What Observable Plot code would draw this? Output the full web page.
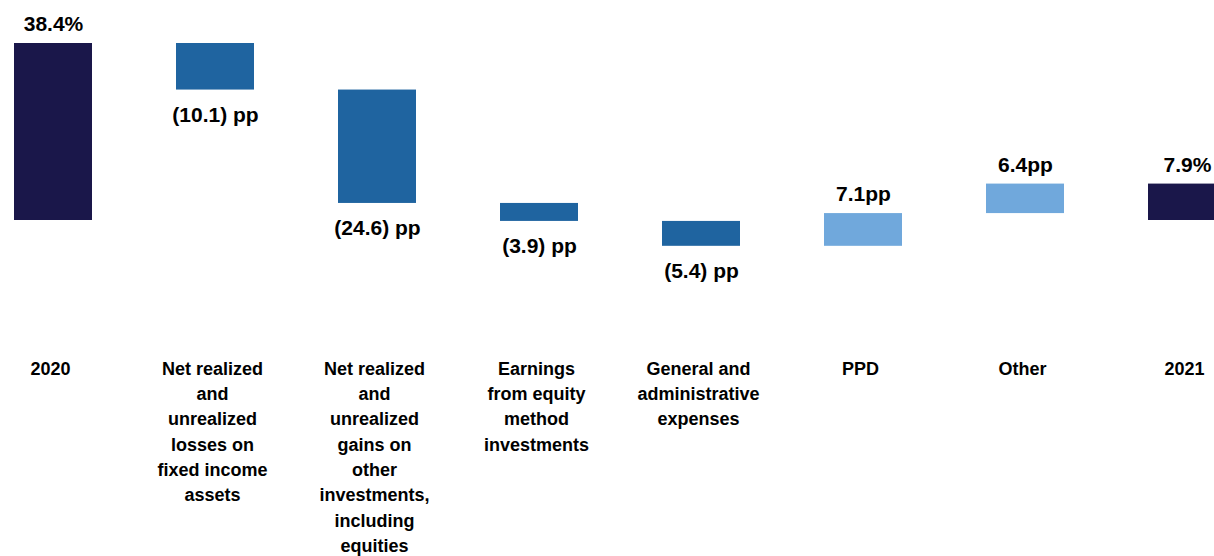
<!DOCTYPE html>
<html>
<head>
<meta charset="utf-8">
<script src="https://cdn.jsdelivr.net/npm/d3@7"></script>
<script src="https://cdn.jsdelivr.net/npm/@observablehq/plot@0.6"></script>
<style>
  html, body { margin: 0; padding: 0; background: #fff; overflow: hidden; }
  #chart svg { display: block; }
</style>
</head>
<body>
<div id="chart"></div>
<script>
// ---- data ----
const categories = [
  "2020",
  "Net realized\nand\nunrealized\nlosses on\nfixed income\nassets",
  "Net realized\nand\nunrealized\ngains on\nother\ninvestments,\nincluding\nequities",
  "Earnings\nfrom equity\nmethod\ninvestments",
  "General and\nadministrative\nexpenses",
  "PPD",
  "Other",
  "2021"
];
const values = [38.4, -10.1, -24.6, -3.9, -5.4, 7.1, 6.4, 7.9];
const kinds = ["total", "delta", "delta", "delta", "delta", "delta", "delta", "total"];
const valueLabels = ["38.4%", "(10.1) pp", "(24.6) pp", "(3.9) pp", "(5.4) pp", "7.1pp", "6.4pp", "7.9%"];

// ---- build waterfall table ----
let running = 0;
const rows = categories.map((c, i) => {
  let y1, y2;
  if (kinds[i] === "total") { y1 = 0; y2 = values[i]; running = values[i]; }
  else { y1 = running; y2 = running + values[i]; running = y2; }
  const type = kinds[i] === "total" ? "total" : (values[i] < 0 ? "neg" : "pos");
  return {cat: c, y1, y2, type, label: valueLabels[i], top: Math.max(y1, y2), bottom: Math.min(y1, y2)};
});

const colors = {total: "#1a174a", neg: "#1f64a0", pos: "#70a8dc"};
const valueFont = "'Liberation Sans', Arial, Helvetica, sans-serif";
const catFont = "'Liberation Sans Narrow', 'Arial Narrow', 'Liberation Sans', Arial, sans-serif";

const chart = Plot.plot({
  width: 1214,
  height: 556,
  marginTop: 0,
  marginBottom: 200,
  marginLeft: 0,
  marginRight: 0,
  x: {domain: categories, range: [12, 1228], paddingInner: 0.52, paddingOuter: 0, axis: null},
  y: {domain: [0, 38.4], range: [220, 43], axis: null},
  style: {fontFamily: valueFont, background: "#fff"},
  marks: [
    Plot.barY(rows, {x: "cat", y1: "y1", y2: "y2", fill: d => colors[d.type]}),
    Plot.text(rows.filter(d => d.type !== "neg"), {
      x: "cat", y: "top", text: "label", dy: -19,
      fontSize: 21, fontWeight: "bold", fill: "#000", fontFamily: valueFont
    }),
    Plot.text(rows.filter(d => d.type === "neg"), {
      x: "cat", y: "bottom", text: "label", dy: 25,
      fontSize: 21, fontWeight: "bold", fill: "#000", fontFamily: valueFont
    }),
    Plot.text(rows, {
      x: "cat", text: "cat", frameAnchor: "bottom", lineAnchor: "top", dy: 0, dx: -3,
      lineHeight: 1.41, fontSize: 18, fontWeight: "bold", fill: "#000", fontFamily: catFont
    })
  ]
});
document.getElementById("chart").appendChild(chart);
</script>
</body>
</html>
